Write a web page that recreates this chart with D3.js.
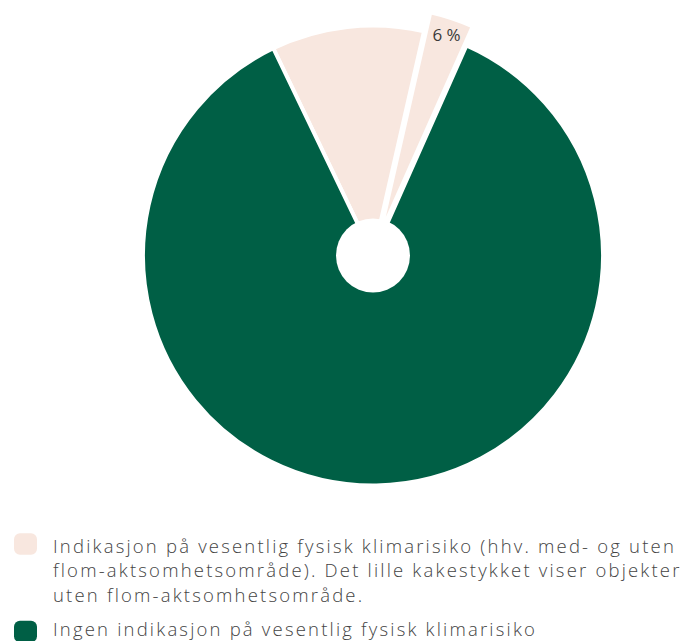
<!DOCTYPE html>
<html lang="no">
  <head>
    <meta charset="UTF-8" />
    <title>Klimarisiko</title>
    <style>
      body { margin: 0; background: #fff; }
      svg text { font-family: 'Open Sans', sans-serif; fill: #444; }
    </style>
    <script src="https://cdn.jsdelivr.net/npm/d3@7/dist/d3.min.js"></script>
  </head>
  <body>
    <svg width="689" height="641"></svg>
    <script>
      // slices, clockwise from the big light slice
      var categories = ['med flom-aktsomhetsområde', 'uten flom-aktsomhetsområde', 'ingen indikasjon']
      var values = [10.7, 3.1, 86.2]
      var sliceLabels = ['', '6 %', '']
      var exploded = [false, true, false]
      var colors = ['#f8e7df', '#f8e7df', '#005f45']

      var legendColors = ['#f8e7df', '#005f45']
      var legendLines = [
        ['Indikasjon på vesentlig fysisk klimarisiko (hhv. med- og uten',
         'flom-aktsomhetsområde). Det lille kakestykket viser objekter',
         'uten flom-aktsomhetsområde.'],
        ['Ingen indikasjon på vesentlig fysisk klimarisiko']
      ]

      var cx = 373, cy = 255.5, radius = 230, hole = 37, offset = 20
      var svg = d3.select('svg')
      var g = svg.append('g').attr('transform', `translate(${cx}, ${cy})`)

      var startA = -25.7 * Math.PI / 180
      var pie = d3.pie().sort(null).startAngle(startA).endAngle(startA + 2 * Math.PI)
      var arc = d3.arc().innerRadius(0).outerRadius(radius)
      var arcs = pie(values)

      function shift(d, i, r) {
        if (!exploded[i]) return [0, 0]
        var a = (d.startAngle + d.endAngle) / 2
        return [Math.sin(a) * r, -Math.cos(a) * r]
      }

      g.selectAll('path.slice')
        .data(arcs)
        .enter()
        .append('path')
        .attr('class', 'slice')
        .attr('d', arc)
        .attr('fill', function(d, i) { return colors[i] })
        .attr('stroke', '#fff')
        .attr('stroke-width', 4)
        .attr('stroke-linejoin', 'round')
        .attr('transform', function(d, i) {
          var s = shift(d, i, offset)
          return `translate(${s[0]}, ${s[1]})`
        })

      // white centre hole
      g.append('circle').attr('r', hole).attr('fill', '#fff')

      // label on the small slice
      g.selectAll('text.lbl')
        .data(arcs)
        .enter()
        .append('text')
        .attr('class', 'lbl')
        .attr('x', function(d, i) {
          var a = (d.startAngle + d.endAngle) / 2
          return Math.sin(a) * (radius - 17) + shift(d, i, offset)[0]
        })
        .attr('y', function(d, i) {
          var a = (d.startAngle + d.endAngle) / 2
          return -Math.cos(a) * (radius - 17) + shift(d, i, offset)[1]
        })
        .attr('text-anchor', 'middle')
        .attr('dominant-baseline', 'central')
        .style('font-size', '17px')
        .style('font-weight', 400)
        .style('fill', '#3a3a3a')
        .text(function(d, i) { return sliceLabels[i] })

      // legend
      var swatchTop = [533.3, 620.7]
      var firstBase = [552.7, 635.7]
      var lineH = 24.7
      var legend = svg.append('g')
      legendLines.forEach(function(lines, k) {
        legend.append('rect')
          .attr('x', 14).attr('y', swatchTop[k])
          .attr('width', 23).attr('height', 21.5)
          .attr('rx', 6)
          .attr('fill', legendColors[k])
        lines.forEach(function(t, j) {
          legend.append('text')
            .attr('class', 'leg')
            .attr('x', 53)
            .attr('y', firstBase[k] + j * lineH)
            .style('font-size', '18.5px')
            .style('font-weight', 300)
            .text(t)
        })
      })

      // stretch letter spacing so the first line spans like the original
      var first = legend.select('text.leg').node()
      var w = first.getComputedTextLength()
      var ls = (623 - w) / legendLines[0][0].length
      legend.selectAll('text.leg').style('letter-spacing', ls + 'px')
    </script>
  </body>
</html>
